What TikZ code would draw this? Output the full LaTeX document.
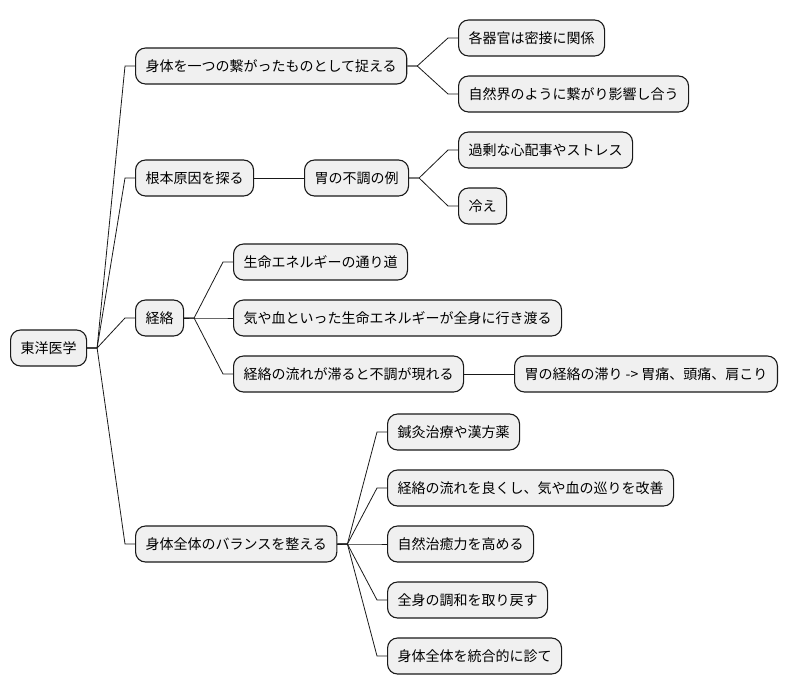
\documentclass[tikz,border=0pt]{standalone}
\usepackage{fontspec}
\setmainfont{Noto Sans CJK JP}
\usetikzlibrary{calc}
\colorlet{boxfill}{black!6}
\colorlet{boxline}{black!90}
\tikzstyle{topic}=[draw=boxline,fill=boxfill,line width=1.1pt,rounded corners=10pt,
  minimum height=36pt,inner xsep=10pt,anchor=west,font=\fontsize{14pt}{16pt}\selectfont]
\tikzstyle{link}=[draw=boxline,line width=0.8pt]
% branch from parent (east side) to child (west side)
\newcommand\branch[2]{%
  \draw[link] (#1.east) -- ($(#1.east)+(10,0)$)
    .. controls ($(#1.east)!0.5!(#2.west)$ |- #1.east) and ($(#1.east)!0.5!(#2.west)$ |- #2.west)
    .. ($(#2.west)+(-10,0)$) -- (#2.west);}

\begin{document}
\begin{tikzpicture}[x=1pt,y=-1pt]
  \useasboundingbox (0,0) rectangle (794,696);
  \def\xa{135} % first level
  \def\xb{458} % right column
  \def\xc{233} % keiraku column
  \def\xd{387} % balance column

  % root
  \node[topic] (root) at (10,348) {東洋医学};

  % first level
  \node[topic] (whole)   at (\xa,66)  {身体を一つの繋がったものとして捉える};
  \node[topic] (cause)   at (\xa,178) {根本原因を探る};
  \node[topic] (meridian) at (\xa,318) {経絡};
  \node[topic] (balance) at (\xa,544) {身体全体のバランスを整える};

  % whole
  \node[topic] (organs) at (\xb,38) {各器官は密接に関係};
  \node[topic] (nature) at (\xb,94) {自然界のように繋がり影響し合う};

  % cause
  \node[topic] (stomach) at (304,178) {胃の不調の例};
  \node[topic] (stress)  at (\xb,150) {過剰な心配事やストレス};
  \node[topic] (cold)    at (\xb,206) {冷え};

  % meridian
  \node[topic] (path)   at (\xc,262) {生命エネルギーの通り道};
  \node[topic] (flow)   at (\xc,318) {気や血といった生命エネルギーが全身に行き渡る};
  \node[topic] (block)  at (\xc,374) {経絡の流れが滞ると不調が現れる};
  \node[topic] (pain)   at (514,374) {胃の経絡の滞り -> 胃痛、頭痛、肩こり};

  % balance
  \node[topic] (acu)     at (\xd,432) {鍼灸治療や漢方薬};
  \node[topic] (improve) at (\xd,488) {経絡の流れを良くし、気や血の巡りを改善};
  \node[topic] (heal)    at (\xd,544) {自然治癒力を高める};
  \node[topic] (harmony) at (\xd,600) {全身の調和を取り戻す};
  \node[topic] (holist)  at (\xd,656) {身体全体を統合的に診て};

  % connectors
  \foreach \c in {whole,cause,meridian,balance} {\branch{root}{\c}}
  \foreach \c in {organs,nature} {\branch{whole}{\c}}
  \draw[link] (cause) -- (stomach);
  \foreach \c in {stress,cold} {\branch{stomach}{\c}}
  \foreach \c in {path,flow,block} {\branch{meridian}{\c}}
  \draw[link] (block) -- (pain);
  \foreach \c in {acu,improve,heal,harmony,holist} {\branch{balance}{\c}}
\end{tikzpicture}
\end{document}
